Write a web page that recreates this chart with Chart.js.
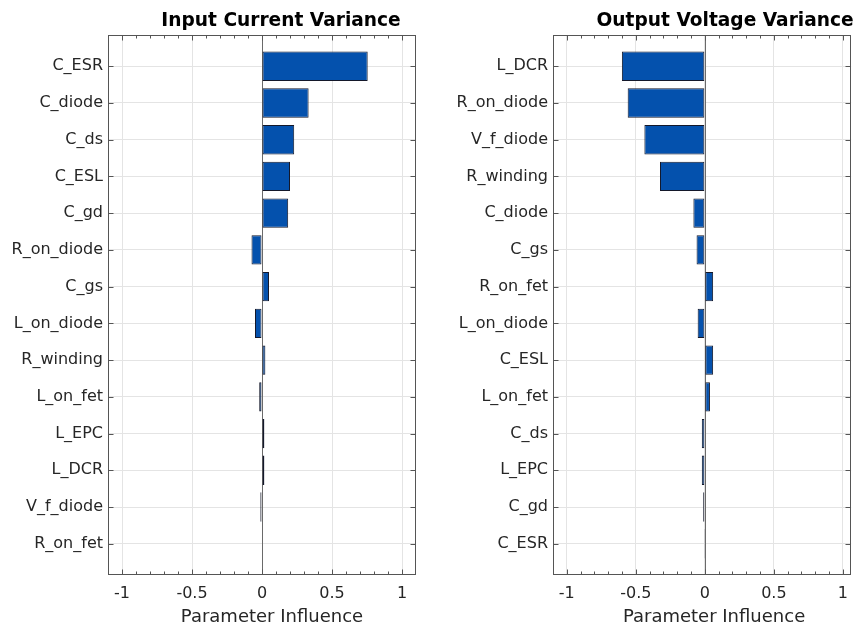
<!DOCTYPE html>
<html><head><meta charset="utf-8">
<script src="https://cdn.jsdelivr.net/npm/chart.js@4/dist/chart.umd.min.js"></script>
<style>
html,body{margin:0;padding:0;background:#fff;overflow:hidden;width:857px;height:630px;position:relative}
canvas{position:absolute;top:0}
#c1{left:0}
#c2{left:440px}
</style></head><body>
<canvas id="c1" width="430" height="630"></canvas>
<canvas id="c2" width="417" height="630"></canvas>
<script>
const inputTitle = 'Input Current Variance';
const outputTitle = 'Output Voltage Variance';
const axisTitle = 'Parameter Influence';
const inputLabels = ['C_ESR','C_diode','C_ds','C_ESL','C_gd','R_on_diode','C_gs','L_on_diode','R_winding','L_on_fet','L_EPC','L_DCR','V_f_diode','R_on_fet'];
const inputValues = [0.755, 0.333, 0.23, 0.2, 0.187, -0.075, 0.05, -0.05, 0.024, -0.02, 0.017, 0.017, -0.012, 0];
const outputLabels = ['L_DCR','R_on_diode','V_f_diode','R_winding','C_diode','C_gs','R_on_fet','L_on_diode','C_ESL','L_on_fet','C_ds','L_EPC','C_gd','C_ESR'];
const outputValues = [-0.601, -0.559, -0.438, -0.325, -0.083, -0.06, 0.06, -0.052, 0.06, 0.037, -0.022, -0.022, -0.012, -0.006];
const xTickValues = [-1, -0.5, 0, 0.5, 1];

Chart.defaults.font.family = 'DejaVu Sans';
Chart.defaults.color = '#262626';

function makeChart(id, title, labels, values, o) {
  const decor = {
    id: 'decor',
    beforeDatasetsDraw(chart) {
      const ctx = chart.ctx, a = chart.chartArea, xs = chart.scales.x;
      const x0 = Math.round(xs.getPixelForValue(0)) + 0.5;
      ctx.save();
      ctx.strokeStyle = '#6a6a6a'; ctx.lineWidth = 1;
      ctx.beginPath(); ctx.moveTo(x0, a.top); ctx.lineTo(x0, a.bottom); ctx.stroke();
      ctx.restore();
    },
    afterDraw(chart) {
      const ctx = chart.ctx, a = chart.chartArea, xs = chart.scales.x, ys = chart.scales.y;
      const L = Math.round(a.left) + 0.5, R = Math.round(a.right) - 0.5, T = Math.round(a.top) + 0.5, B = Math.round(a.bottom) - 0.5;
      ctx.save();
      ctx.strokeStyle = '#555'; ctx.lineWidth = 1;
      ctx.strokeRect(L, T, R - L, B - T);
      ctx.beginPath();
      const kMin = Math.ceil(xs.min * 10 + 1e-6), kMax = Math.floor(xs.max * 10 - 1e-6);
      for (let k = kMin; k <= kMax; k++) {
        const px = Math.round(xs.getPixelForValue(k / 10)) + 0.5;
        const len = (k % 5 === 0) ? 5 : 3;
        ctx.moveTo(px, T); ctx.lineTo(px, T + len);
        ctx.moveTo(px, B); ctx.lineTo(px, B - len);
      }
      labels.forEach((_, i) => {
        const py = Math.round(ys.getPixelForValue(i + 1)) + 0.5;
        ctx.moveTo(L, py); ctx.lineTo(L + 5, py);
        ctx.moveTo(R, py); ctx.lineTo(R - 5, py);
      });
      ctx.stroke();
      const cx = (a.left + a.right) / 2;
      ctx.fillStyle = '#000';
      ctx.textAlign = 'center'; ctx.textBaseline = 'alphabetic';
      ctx.font = 'bold 18.6px "DejaVu Sans"';
      ctx.fillText(title, cx + o.titleOffset, 26);
      ctx.fillStyle = '#262626';
      ctx.font = '18px "DejaVu Sans"';
      ctx.fillText(axisTitle, cx + o.axisOffset, 622);
      ctx.restore();
    }
  };
  return new Chart(document.getElementById(id), {
    type: 'bar',
    data: {
      datasets: [{
        data: values.map((v, i) => ({ x: v, y: i + 1 })),
        backgroundColor: '#0451ad',
        borderColor: '#14182a',
        borderWidth: 1,
        borderSkipped: false,
        barPercentage: 0.8,
        categoryPercentage: 1
      }]
    },
    options: {
      indexAxis: 'y',
      responsive: false,
      animation: false,
      layout: { padding: { top: 35, right: o.padRight, bottom: 0, left: 0 } },
      plugins: { legend: { display: false }, tooltip: { enabled: false }, title: { display: false } },
      scales: {
        x: {
          type: 'linear', position: 'bottom', min: -1.1, max: o.xMax, offset: false,
          afterBuildTicks(s) { s.ticks = xTickValues.filter(v => v <= o.xMax).map(v => ({ value: v })); },
          ticks: { font: { size: 16 }, padding: 9, color: '#262626', maxRotation: 0,
                   callback: v => String(v) },
          grid: { color: '#e4e4e4', drawTicks: false, tickLength: 0, offset: false },
          border: { display: false },
          afterFit(s) { s.height = 55; }
        },
        y: {
          type: 'linear', reverse: true, min: 0.15, max: 14.85, offset: false,
          afterBuildTicks(s) { s.ticks = labels.map((_, i) => ({ value: i + 1 })); },
          ticks: { font: { size: 16 }, padding: 5, color: '#262626', autoSkip: false,
                   callback: v => labels[v - 1] },
          grid: { color: '#e4e4e4', drawTicks: false, tickLength: 0, offset: false },
          border: { display: false },
          afterFit(s) { s.width = o.yWidth; }
        }
      }
    },
    plugins: [decor]
  });
}

makeChart('c1', inputTitle, inputLabels, inputValues, { xMax: 1.1, padRight: 14, yWidth: 108, titleOffset: 19, axisOffset: 10 });
makeChart('c2', outputTitle, outputLabels, outputValues, { xMax: 1.06, padRight: 1, yWidth: 113, titleOffset: 23, axisOffset: 12 });
</script>
</body></html>
